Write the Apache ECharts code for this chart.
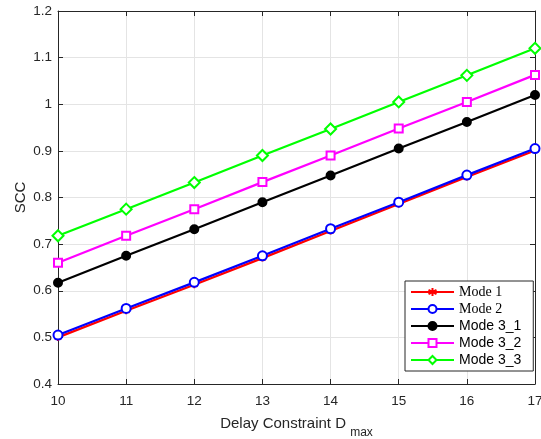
<!DOCTYPE html>
<html>
<head>
<meta charset="utf-8">
<script src="https://cdn.jsdelivr.net/npm/echarts@6/dist/echarts.min.js"></script>
<style>
  html, body { margin: 0; padding: 0; background: #fff; }
  #chart { width: 541px; height: 439px; }
</style>
</head>
<body>
<div id="chart"></div>
<script>
// delay constraint values on x axis
var delays = [10, 11, 12, 13, 14, 15, 16, 17]
var mode1  = [0.500, 0.557, 0.613, 0.670, 0.728, 0.786, 0.844, 0.901]
var mode2  = [0.505, 0.562, 0.618, 0.675, 0.733, 0.790, 0.848, 0.905]
var mode31 = [0.617, 0.675, 0.732, 0.790, 0.847, 0.905, 0.962, 1.020]
var mode32 = [0.660, 0.718, 0.775, 0.833, 0.890, 0.948, 1.005, 1.063]
var mode33 = [0.718, 0.775, 0.832, 0.890, 0.947, 1.005, 1.062, 1.120]
var names  = ['Mode 1', 'Mode 2', 'Mode 3_1', 'Mode 3_2', 'Mode 3_3']

var font = 'Liberation Sans, Arial, Helvetica, sans-serif'
var axisColor = '#262626'
var star = 'path://M0,-10L0,10M-8.7,-5L8.7,5M-8.7,5L8.7,-5'

function pairs(ys) {
  return delays.map(function (d, i) { return [d, ys[i]] })
}

function mkSeries(name, ys, color, symbol, size, fill) {
  return {
    name: name,
    type: 'line',
    data: pairs(ys),
    symbol: symbol,
    symbolSize: size,
    showSymbol: true,
    lineStyle: { color: color, width: 2.2 },
    itemStyle: { color: fill ? color : '#fff', borderColor: color, borderWidth: 2 },
    color: color,
    animation: false
  }
}

var chart = echarts.init(document.getElementById('chart'))
var baseAxis = {
  axisLine: { show: true, onZero: false, lineStyle: { color: axisColor, width: 1 } },
  axisTick: { show: true, inside: true, length: 5, lineStyle: { color: axisColor } }
}
chart.setOption({
  backgroundColor: '#fff',
  textStyle: { fontFamily: font },
  grid: { left: 58, right: 6, top: 11, bottom: 55, containLabel: false, outerBoundsMode: 'none' },
  xAxis: [
    Object.assign({}, baseAxis, {
      type: 'value', min: 10, max: 17, interval: 1, position: 'bottom',
      name: 'Delay Constraint D {sub|max}',
      nameLocation: 'middle', nameGap: 25, nameMoveOverlap: false,
      nameTextStyle: {
        color: axisColor, fontSize: 15, fontFamily: font,
        rich: { sub: { fontSize: 12, fontFamily: font, color: axisColor, padding: [18, 0, 0, 0] } }
      },
      axisLabel: { color: axisColor, fontSize: 13.5, margin: 10 },
      splitLine: { show: true, lineStyle: { color: '#e4e4e4', width: 1 } }
    }),
    Object.assign({}, baseAxis, {
      type: 'value', min: 10, max: 17, interval: 1, position: 'top',
      axisLabel: { show: false }, splitLine: { show: false }
    })
  ],
  yAxis: [
    Object.assign({}, baseAxis, {
      type: 'value', min: 0.4, max: 1.2, interval: 0.1, position: 'left',
      name: 'SCC', nameLocation: 'middle', nameGap: 30, nameMoveOverlap: false,
      nameTextStyle: { color: axisColor, fontSize: 15, fontFamily: font },
      axisLabel: {
        color: axisColor, fontSize: 13.5, margin: 6,
        formatter: function (v) { return String(parseFloat(v.toFixed(1))) }
      },
      splitLine: { show: true, lineStyle: { color: '#e4e4e4', width: 1 } }
    }),
    Object.assign({}, baseAxis, {
      type: 'value', min: 0.4, max: 1.2, interval: 0.1, position: 'right',
      axisLabel: { show: false }, splitLine: { show: false }
    })
  ],
  legend: {
    orient: 'vertical',
    left: 405, top: 281,
    padding: [4, 12, 4, 5],
    itemGap: 3,
    itemWidth: 43,
    itemHeight: 10,
    backgroundColor: '#fff',
    borderColor: axisColor,
    borderWidth: 1,
    borderRadius: 0,
    data: names,
    textStyle: {
      color: '#000', fontSize: 14, fontFamily: font,
      rich: { s: { fontFamily: 'Liberation Serif, Times New Roman, serif', fontSize: 14, color: '#000' } }
    },
    formatter: function (n) {
      return (n === 'Mode 1' || n === 'Mode 2') ? '{s|' + n + '}' : n
    }
  },
  series: [
    mkSeries(names[0], mode1, '#ff0000', star, 7, false),
    mkSeries(names[1], mode2, '#0000ff', 'circle', 9, false),
    mkSeries(names[2], mode31, '#000000', 'circle', 8, true),
    mkSeries(names[3], mode32, '#ff00ff', 'rect', 8, false),
    mkSeries(names[4], mode33, '#00ff00', 'diamond', 11, false)
  ]
})
</script>
</body>
</html>
